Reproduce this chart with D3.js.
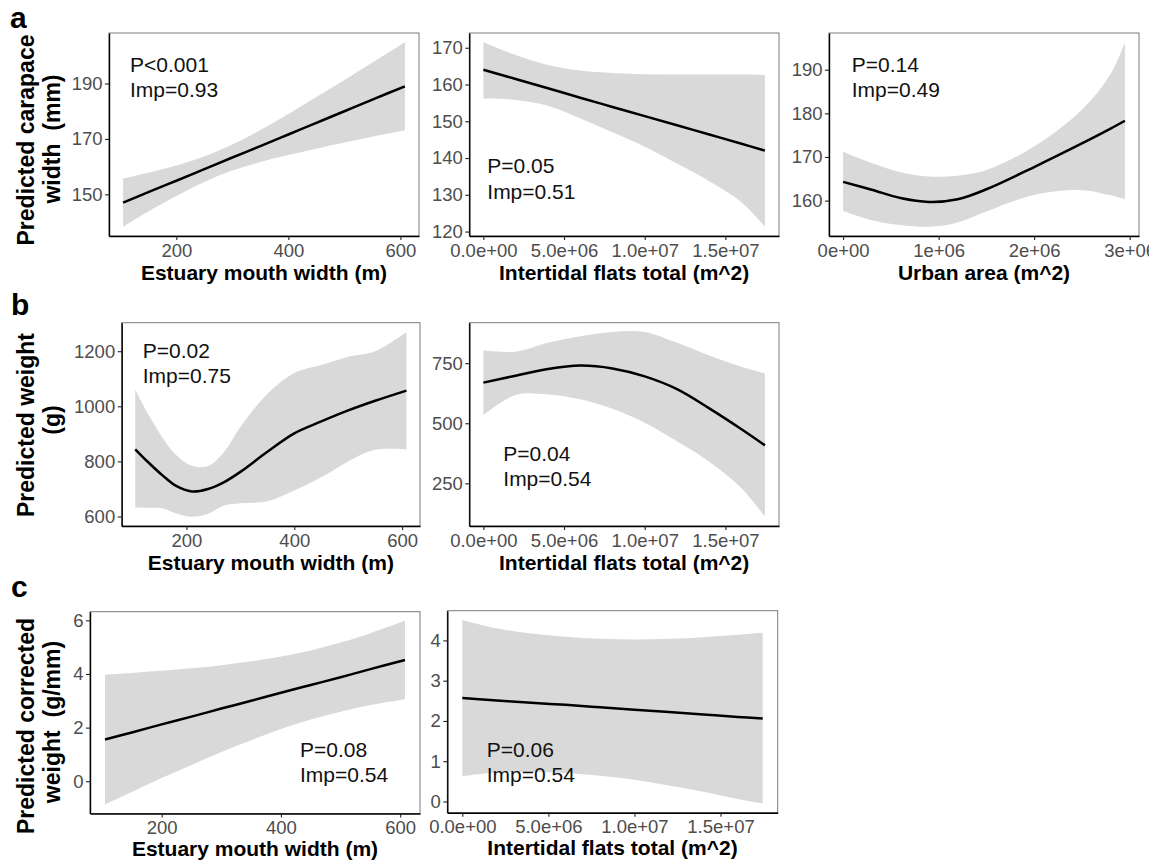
<!DOCTYPE html>
<html>
<head>
<meta charset="utf-8">
<script src="https://cdn.jsdelivr.net/npm/d3@7"></script>
<style>
  body { margin: 0; background: #fff; }
  svg { display: block; font-family: "Liberation Sans", Arial, Helvetica, sans-serif; }
</style>
</head>
<body>
<script>
// ---- data ----
// predictor grids
var estuaryX = [105, 150, 200, 250, 300, 350, 400, 450, 500, 550, 608];
var estuaryXb = [105, 130, 155, 180, 210, 240, 270, 300, 350, 400, 450, 500, 550, 608];
var flatsX = [0, 2e6, 4e6, 6e6, 8e6, 10e6, 12e6, 14e6, 16e6, 17.45e6];
var urbanX = [0, 0.3e6, 0.6e6, 0.9e6, 1.2e6, 1.5e6, 2.0e6, 2.5e6, 2.8e6, 2.95e6];

// a: carapace width (mm)
var cwEstuaryFit = [147, 150.8, 154.9, 159.1, 163.3, 167.4, 171.6, 175.8, 180, 184.2, 189];
var cwEstuaryLo  = [138.3, 143.8, 149.4, 154.5, 158.6, 161.7, 164.2, 166.5, 168.7, 170.8, 173.1];
var cwEstuaryHi  = [155.7, 157.8, 160.4, 163.7, 168, 173.2, 179.0, 185.1, 191.3, 197.6, 204.9];

var cwFlatsFit = [164, 161.5, 159, 156.4, 153.9, 151.4, 148.9, 146.4, 143.9, 142];
var cwFlatsLo  = [156.2, 155.8, 154.2, 150.8, 147, 143.1, 138.5, 133.7, 128, 121.3];
var cwFlatsHi  = [171.5, 168.0, 165.3, 163.8, 163.1, 162.8, 162.7, 162.7, 162.7, 162.6];

var cwUrbanFit = [164.3, 162.5, 160.6, 159.7, 160.3, 162.6, 167.7, 173.1, 176.5, 178.3];
var cwUrbanLo  = [157.7, 155.5, 154.4, 154, 155, 157.5, 161.3, 162.4, 161.2, 160.3];
var cwUrbanHi  = [171.2, 168.6, 166.5, 165.5, 165.7, 167, 172.4, 180.8, 189, 196.3];

// b: weight (g)
var wEstuaryFit = [844, 795, 750, 712, 691, 700, 725, 762, 835, 902, 945, 985, 1020, 1057];
var wEstuaryLo  = [633, 632, 630, 612, 599, 610, 640, 648, 655, 694, 742, 800, 842, 843];
var wEstuaryHi  = [1060, 968, 888, 825, 784, 783, 835, 925, 1045, 1121, 1150, 1180, 1200, 1270];

var wFlatsFit = [669, 698, 726, 740, 728, 695, 642, 562, 475, 408];
var wFlatsLo  = [534, 618, 620, 600, 560, 502, 425, 340, 230, 111];
var wFlatsHi  = [804, 798, 835, 862, 880, 880, 835, 782, 735, 707];

// c: corrected weight (g/mm)
var cwtEstuaryFit = [1.56, 1.82, 2.12, 2.41, 2.71, 3.0, 3.30, 3.59, 3.88, 4.18, 4.52];
var cwtEstuaryLo  = [-0.86, -0.40, 0.12, 0.61, 1.09, 1.53, 1.95, 2.30, 2.59, 2.84, 3.06];
var cwtEstuaryHi  = [3.98, 4.04, 4.12, 4.21, 4.33, 4.47, 4.65, 4.88, 5.17, 5.52, 5.98];

var cwtFlatsFit = [2.57, 2.51, 2.45, 2.40, 2.34, 2.28, 2.22, 2.16, 2.10, 2.06];
var cwtFlatsLo  = [0.63, 0.72, 0.73, 0.71, 0.64, 0.54, 0.40, 0.24, 0.06, -0.05];
var cwtFlatsHi  = [4.51, 4.30, 4.17, 4.09, 4.04, 4.02, 4.04, 4.08, 4.14, 4.19];

// tick values and labels
var estuaryTicks = [200, 400, 600];
var estuaryLabels = ["200", "400", "600"];
var flatsTicks = [0, 5e6, 1e7, 1.5e7];
var flatsLabels = ["0.0e+00", "5.0e+06", "1.0e+07", "1.5e+07"];
var urbanTicks = [0, 1e6, 2e6, 3e6];
var urbanLabels = ["0e+00", "1e+06", "2e+06", "3e+06"];

// stats text
var statsP   = ["P<0.001", "P=0.05", "P=0.14", "P=0.02", "P=0.04", "P=0.08", "P=0.06"];
var statsImp = ["Imp=0.93", "Imp=0.51", "Imp=0.49", "Imp=0.75", "Imp=0.54", "Imp=0.54", "Imp=0.54"];

var estuaryTitle = "Estuary mouth width (m)";
var flatsTitle = "Intertidal flats total (m^2)";
var urbanTitle = "Urban area (m^2)";

// ---- layout ----
var svg = d3.select("body").append("svg")
  .attr("width", 1149)
  .attr("height", 864);

var panels = [
  {box: [109, 33, 419, 236], x: estuaryX, fit: cwEstuaryFit, lo: cwEstuaryLo, hi: cwEstuaryHi,
   yTicks: [150, 170, 190], xTicks: estuaryTicks, xLabels: estuaryLabels, title: estuaryTitle, titleGap: 44, txt: [21, 38.7]},
  {box: [469.3, 33, 779, 236], x: flatsX, fit: cwFlatsFit, lo: cwFlatsLo, hi: cwFlatsHi,
   yTicks: [120, 130, 140, 150, 160, 170], xTicks: flatsTicks, xLabels: flatsLabels, title: flatsTitle, titleGap: 44, txt: [18, 140.3]},
  {box: [829, 33, 1139, 236], x: urbanX, fit: cwUrbanFit, lo: cwUrbanLo, hi: cwUrbanHi,
   yTicks: [160, 170, 180, 190], xTicks: urbanTicks, xLabels: urbanLabels, title: urbanTitle, titleGap: 44, txt: [22.7, 38.7]},
  {box: [121.7, 322.7, 420, 526], x: estuaryXb, fit: wEstuaryFit, lo: wEstuaryLo, hi: wEstuaryHi,
   yTicks: [600, 800, 1000, 1200], xTicks: estuaryTicks, xLabels: estuaryLabels, title: estuaryTitle, titleGap: 44, txt: [21, 35]},
  {box: [469.3, 322.7, 779, 526], x: flatsX, fit: wFlatsFit, lo: wFlatsLo, hi: wFlatsHi,
   yTicks: [250, 500, 750], xTicks: flatsTicks, xLabels: flatsLabels, title: flatsTitle, titleGap: 44, txt: [34, 138]},
  {box: [90, 611.7, 420, 813.5], x: estuaryX, fit: cwtEstuaryFit, lo: cwtEstuaryLo, hi: cwtEstuaryHi,
   yTicks: [0, 2, 4, 6], xTicks: estuaryTicks, xLabels: estuaryLabels, title: estuaryTitle, titleGap: 42, txt: [210, 145]},
  {box: [447.3, 610.7, 777.7, 812.7], x: flatsX, fit: cwtFlatsFit, lo: cwtFlatsLo, hi: cwtFlatsHi,
   yTicks: [0, 1, 2, 3, 4], xTicks: flatsTicks, xLabels: flatsLabels, title: flatsTitle, titleGap: 42, txt: [39.4, 146]}
];

// y titles per row: two lines, centre y of each
var rowTitles = [
  {lines: ["Predicted carapace", "width\u00a0 (mm)"], cy: [140, 139]},
  {lines: ["Predicted weight", "(g)"], cy: [425, 420]},
  {lines: ["Predicted corrected", "weight\u00a0 (g/mm)"], cy: [726, 722]}
];
var rowLetters = [["a", 10, 28], ["b", 11, 315], ["c", 11, 597]];

function expand(ext) {
  var pad = (ext[1] - ext[0]) * 0.05;
  return [ext[0] - pad, ext[1] + pad];
}

panels.forEach(function (p, k) {
  var L = p.box[0], T = p.box[1], R = p.box[2], B = p.box[3];
  var x = d3.scaleLinear().domain(expand(d3.extent(p.x))).range([L, R]);
  var y = d3.scaleLinear().domain(expand(d3.extent(p.lo.concat(p.hi)))).range([B, T]);

  var rows = p.x.map(function (d, i) {
    return {x: d, fit: p.fit[i], lo: p.lo[i], hi: p.hi[i]};
  });

  var g = svg.append("g");

  // confidence band
  g.append("path").datum(rows)
    .attr("fill", "#d9d9d9")
    .attr("d", d3.area()
      .x(function (d) { return x(d.x); })
      .y0(function (d) { return y(d.lo); })
      .y1(function (d) { return y(d.hi); })
      .curve(d3.curveCatmullRom));

  // fitted line
  g.append("path").datum(rows)
    .attr("fill", "none")
    .attr("stroke", "#000")
    .attr("stroke-width", 2.5)
    .attr("d", d3.line()
      .x(function (d) { return x(d.x); })
      .y(function (d) { return y(d.fit); })
      .curve(d3.curveCatmullRom));

  // panel border (top/right grey)
  g.append("rect")
    .attr("x", L).attr("y", T).attr("width", R - L).attr("height", B - T)
    .attr("fill", "none").attr("stroke", "#7a7a7a").attr("stroke-width", 1);

  var xAxis = d3.axisBottom(x)
    .tickValues(p.xTicks)
    .tickFormat(function (d, i) { return p.xLabels[i]; })
    .tickSize(4).tickSizeOuter(0).tickPadding(3.5);
  var yAxis = d3.axisLeft(y)
    .tickValues(p.yTicks)
    .tickFormat(function (d) { return String(d); })
    .tickSize(4).tickSizeOuter(0).tickPadding(2.5);

  var gx = g.append("g").attr("transform", "translate(0," + B + ")").call(xAxis);
  var gy = g.append("g").attr("transform", "translate(" + L + ",0)").call(yAxis);
  [gx, gy].forEach(function (a) {
    a.select(".domain").attr("stroke", "#000").attr("stroke-width", 1.4);
    a.selectAll(".tick line").attr("stroke", "#222").attr("stroke-width", 1.1);
    a.selectAll(".tick text")
      .attr("fill", "#4d4d4d")
      .style("font-size", "18.5px")
      .style("font-family", "'Liberation Sans', Arial, sans-serif");
  });

  // x title
  g.append("text")
    .attr("x", (L + R) / 2).attr("y", B + p.titleGap)
    .attr("text-anchor", "middle")
    .style("font-size", "21px").style("font-weight", "bold")
    .text(p.title);

  // P / Imp annotation
  var t = g.append("text")
    .attr("x", L + p.txt[0]).attr("y", T + p.txt[1])
    .style("font-size", "21px").attr("fill", "#111");
  t.append("tspan").attr("x", L + p.txt[0]).text(statsP[k]);
  t.append("tspan").attr("x", L + p.txt[0]).attr("dy", 25.5).text(statsImp[k]);
});

// row y-axis titles
rowTitles.forEach(function (r) {
  [33.5, 60].forEach(function (bx, i) {
    svg.append("text")
      .attr("transform", "translate(" + bx + "," + r.cy[i] + ") rotate(-90)")
      .attr("text-anchor", "middle")
      .style("font-size", "23px").style("font-weight", "bold")
      .text(r.lines[i]);
  });
});

// panel letters
rowLetters.forEach(function (l) {
  svg.append("text")
    .attr("x", l[1]).attr("y", l[2])
    .style("font-size", "30px").style("font-weight", "bold")
    .text(l[0]);
});
</script>
</body>
</html>
